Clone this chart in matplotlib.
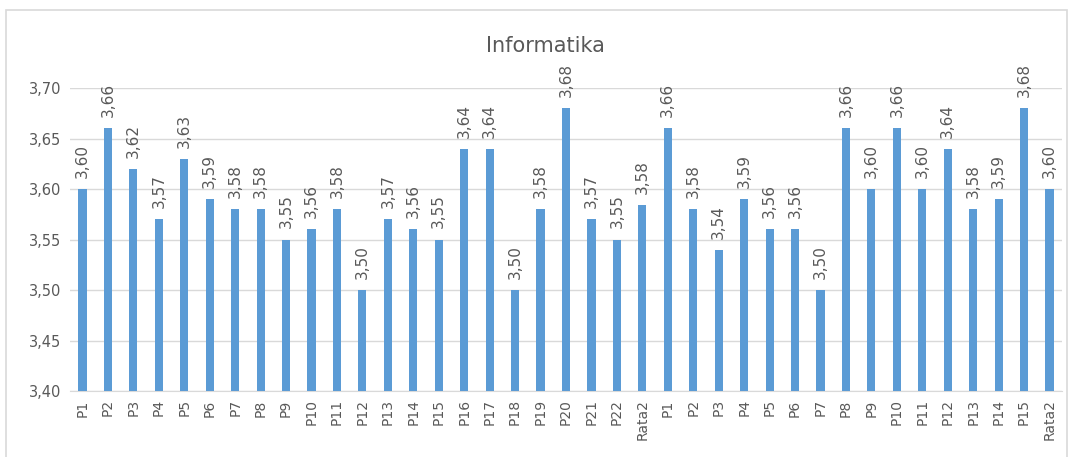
import matplotlib.pyplot as plt
from matplotlib.patches import Rectangle

kategori = ["P%d" % i for i in range(1, 23)] + ["Rata2"] + \
    ["P%d" % i for i in range(1, 16)] + ["Rata2"]
nilai = [3.60, 3.66, 3.62, 3.57, 3.63, 3.59, 3.58, 3.58, 3.55, 3.56, 3.58,
         3.50, 3.57, 3.56, 3.55, 3.64, 3.64, 3.50, 3.58, 3.68, 3.57, 3.55,
         3.584,
         3.66, 3.58, 3.54, 3.59, 3.56, 3.56, 3.50, 3.66, 3.60, 3.66, 3.60,
         3.64, 3.58, 3.59, 3.68, 3.60]

abu = '#595959'
fig = plt.figure(figsize=(10.73, 4.57), dpi=100)
ax = fig.add_axes([0.065, 0.1444, 0.925, 0.663])

x = range(len(nilai))
ax.bar(x, nilai, width=0.32, color='#5b9bd5', zorder=3)
for i, v in enumerate(nilai):
    ax.annotate(("%.2f" % v).replace('.', ','), (i, v), xytext=(0, 8),
                textcoords='offset points', rotation=90,
                ha='center', va='bottom', fontsize=11, color=abu)

ax.set_ylim(3.40, 3.70)
ax.set_xlim(-0.5, len(nilai) - 0.5)
ax.set_yticks([3.40, 3.45, 3.50, 3.55, 3.60, 3.65, 3.70])
ax.set_yticklabels([("%.2f" % t).replace('.', ',') for t in ax.get_yticks()],
                   fontsize=10.5, color=abu)
ax.set_xticks(list(x))
ax.set_xticklabels(kategori, rotation=90, fontsize=10, color=abu)
ax.tick_params(length=0, pad=6)
ax.grid(axis='y', color='#d9d9d9', linewidth=1, zorder=0)
for s in ['top', 'right', 'left']:
    ax.spines[s].set_visible(False)
ax.spines['bottom'].set_color('#d9d9d9')

fig.text(0.508, 0.9, "Informatika", ha='center', va='center',
         fontsize=15, color=abu)
fig.patches.append(Rectangle((0.006, -0.05), 0.988, 1.028, transform=fig.transFigure,
                             fill=False, edgecolor='#d9d9d9', linewidth=1.2))

plt.savefig("out.png", dpi=100)
